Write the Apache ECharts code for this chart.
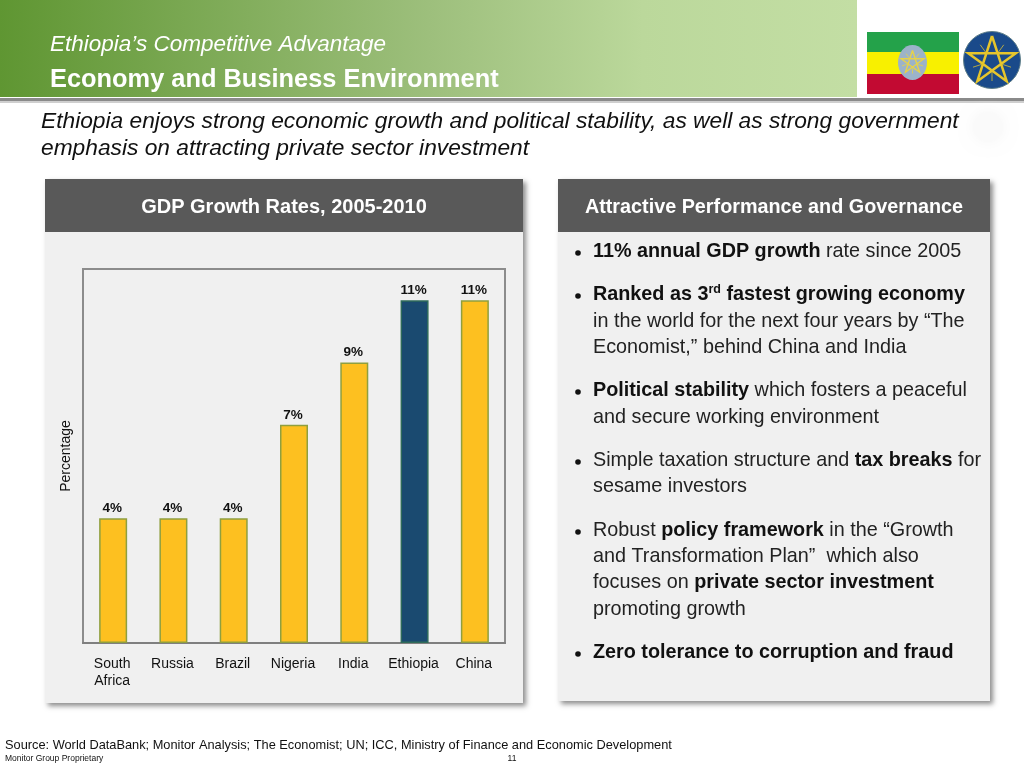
<!DOCTYPE html>
<html><head><meta charset="utf-8">
<style>html,body{margin:0;padding:0;background:#fff}#c{width:1024px;height:768px}</style>
<script src="https://cdn.jsdelivr.net/npm/echarts@6/dist/echarts.min.js"></script>
</head><body><div id="c"></div>
<script>
var categories = ['South\nAfrica','Russia','Brazil','Nigeria','India','Ethiopia','China'];
var growthValues = [4,4,4,7,9,11,11];
var highlightCategory = 'Ethiopia';
var headerLine = 'Ethiopia\u2019s Competitive Advantage';
var headerTitle = 'Economy and Business Environment';
var subLines = ['Ethiopia enjoys strong economic growth and political stability, as well as strong government','emphasis on attracting private sector investment'];
var leftTitle = 'GDP Growth Rates, 2005-2010';
var rightTitle = 'Attractive Performance and Governance';
var bullets = [
 {y:252, t:'{b|11% annual GDP growth}{n| rate since 2005}'},
 {y:295, t:'{b|Ranked as 3}{s|rd}{b| fastest growing economy}'},
 {y:322, t:'{n|in the world for the next four years by \u201cThe}', nb:1},
 {y:348, t:'{n|Economist,\u201d behind China and India}', nb:1},
 {y:391, t:'{b|Political stability}{n| which fosters a peaceful}'},
 {y:418, t:'{n|and secure working environment}', nb:1},
 {y:461, t:'{n|Simple taxation structure and }{b|tax breaks}{n| for}'},
 {y:487, t:'{n|sesame investors}', nb:1},
 {y:531, t:'{n|Robust }{b|policy framework}{n| in the \u201cGrowth}'},
 {y:557, t:'{n|and Transformation Plan\u201d  which also}', nb:1},
 {y:583, t:'{n|focuses on }{b|private sector investment}', nb:1},
 {y:610, t:'{n|promoting growth}', nb:1},
 {y:653, t:'{b|Zero tolerance to corruption and fraud}'}
];
var sourceText = 'Source: World DataBank; Monitor Analysis; The Economist; UN; ICC, Ministry of Finance and Economic Development';
var propText = 'Monitor Group Proprietary';
var pageNo = '11';

var FF = '"Liberation Sans", Arial, sans-serif';
function star(cx,cy,r,color,lw){
  var p=[];for(var i=0;i<6;i++){var a=-Math.PI/2+i*2*2*Math.PI/5;p.push([cx+r*Math.cos(a),cy+r*Math.sin(a)]);}
  return {type:'polyline',z:5,shape:{points:p},style:{stroke:color,lineWidth:lw,fill:null,lineJoin:'miter'}};
}
function rays(cx,cy,r0,r,color){
  var out=[];for(var i=0;i<5;i++){var a=-Math.PI/2+Math.PI/5+i*2*Math.PI/5;
   out.push({type:'line',z:5,shape:{x1:cx+r0*Math.cos(a),y1:cy+r0*Math.sin(a),x2:cx+r*Math.cos(a),y2:cy+r*Math.sin(a)},style:{stroke:color,lineWidth:0.8}});}
  return out;
}
function panel(x,y,w,h,hh,title,fs){
  return [
   {type:'rect',z:1,shape:{x:x,y:y,width:w,height:h},style:{fill:'#f0f0f0',shadowBlur:5,shadowColor:'rgba(0,0,0,0.45)',shadowOffsetX:3,shadowOffsetY:3}},
   {type:'rect',z:1,shape:{x:x,y:y,width:w,height:hh},style:{fill:'#595959'}},
   {type:'text',z:3,style:{x:x+w/2,y:y+hh/2+2,text:title,fill:'#fff',font:'bold '+fs+'px '+FF,align:'center',verticalAlign:'middle'}}
  ];
}
var g=[
 {type:'rect',z:1,shape:{x:0,y:0,width:857,height:97},style:{fill:new echarts.graphic.LinearGradient(0,0,1,0,[{offset:0,color:'#5f9632'},{offset:0.5,color:'#9dbf7c'},{offset:0.75,color:'#bbd89b'},{offset:1,color:'#c3dea4'}])}},
 {type:'rect',z:1,shape:{x:0,y:98,width:1024,height:3},style:{fill:'#8a8a8a'}},
 {type:'rect',z:1,shape:{x:0,y:101,width:1024,height:2},style:{fill:'#cfcfcf'}},
 {type:'text',z:3,style:{x:50,y:45,text:headerLine,fill:'#fff',font:'italic 22.5px '+FF,verticalAlign:'middle'}},
 {type:'text',z:3,style:{x:50,y:80,text:headerTitle,fill:'#fff',font:'bold 25.4px '+FF,verticalAlign:'middle'}},
 {type:'text',z:3,style:{x:41,y:122,text:subLines[0],fill:'#111',font:'italic 22.75px '+FF,verticalAlign:'middle'}},
 {type:'text',z:3,style:{x:41,y:149,text:subLines[1],fill:'#111',font:'italic 22.75px '+FF,verticalAlign:'middle'}},
 // flag
 {type:'rect',z:1,shape:{x:867,y:32,width:92,height:20},style:{fill:'#24a24a'}},
 {type:'rect',z:1,shape:{x:867,y:52,width:92,height:22},style:{fill:'#f8f000'}},
 {type:'rect',z:1,shape:{x:867,y:74,width:92,height:20},style:{fill:'#c20a32'}},
 {type:'ellipse',z:4,shape:{cx:912.5,cy:62.5,rx:14.5,ry:17.5},style:{fill:'#9cb3c9'}},
 star(912.5,62.5,12,'#e6d24a',1.4),
 // emblem
 {type:'circle',z:4,shape:{cx:992,cy:60,r:28.5},style:{fill:'#1a4a8a',stroke:'#5f7f8a',lineWidth:1}},
 star(992,61,25,'#e6c52c',2.5)
].concat(rays(992,61,11,20,'#d9bf35')).concat(rays(912.5,62.5,6,11,'#e6d24a'));
g.push({type:'circle',z:1,shape:{cx:988,cy:127,r:15},style:{fill:'#fafafa',shadowBlur:14,shadowColor:'#f6f6f6'}});
g=g.concat(panel(45,179,478,524,53,leftTitle,20)).concat(panel(558,179,432,522,53,rightTitle,19.8));
bullets.forEach(function(b){
  if(!b.nb) g.push({type:'circle',z:3,shape:{cx:578,cy:b.y+1,r:2.8},style:{fill:'#111'}});
  g.push({type:'text',z:3,style:{x:593,y:b.y,text:b.t,verticalAlign:'middle',rich:{
    b:{font:'bold 19.8px '+FF,fill:'#111',lineHeight:24},
    n:{font:'19.8px '+FF,fill:'#222',lineHeight:24},
    s:{font:'bold 12.5px '+FF,fill:'#111',lineHeight:24,verticalAlign:'top',padding:[0,0,5,0]}
  }}});
});
g.push({type:'text',z:3,style:{x:5,y:745,text:sourceText,fill:'#111',font:'12.8px '+FF,verticalAlign:'middle'}});
g.push({type:'text',z:3,style:{x:5,y:759,text:propText,fill:'#111',font:'8.5px '+FF,verticalAlign:'middle'}});
g.push({type:'text',z:3,style:{x:512,y:759,text:pageNo,fill:'#111',font:'8.5px '+FF,align:'center',verticalAlign:'middle'}});

var chart=echarts.init(document.getElementById('c'),null,{renderer:'canvas'});
chart.setOption({
 animation:false,
 backgroundColor:'#fff',
 graphic:{elements:g},
 grid:{left:83,top:269,width:422,height:374,show:true,borderColor:'#8c8c8c',borderWidth:2,backgroundColor:'transparent',z:2},
 xAxis:{type:'category',data:categories,z:3,
   axisTick:{show:false},axisLine:{show:true,lineStyle:{color:'#7f7f7f',width:2}},
   axisLabel:{color:'#111',fontFamily:FF,fontSize:14,lineHeight:17,margin:13,interval:0,padding:[0,2,0,0]}},
 yAxis:{type:'value',min:0,max:12,interval:2,z:3,name:'Percentage',nameLocation:'middle',nameGap:10,
   nameTextStyle:{color:'#111',fontFamily:FF,fontSize:14},
   axisLine:{show:false},axisTick:{show:false},axisLabel:{show:false},splitLine:{show:false}},
 series:[{type:'bar',z:4,barWidth:28,
   data:growthValues.map(function(v,i){
     var hi=categories[i]===highlightCategory;
     return {value:v,itemStyle:{color:hi?'#1a4a70':'#fdc020',borderColor:hi?'#2f6b5a':'#8f9f3f',borderWidth:1.5}};
   }),
   label:{show:true,position:'top',distance:4,offset:[-1,1],color:'#111',fontFamily:FF,fontSize:13.5,fontWeight:'bold',formatter:function(p){return p.value+'%';}}
 }]
});
</script></body></html>
